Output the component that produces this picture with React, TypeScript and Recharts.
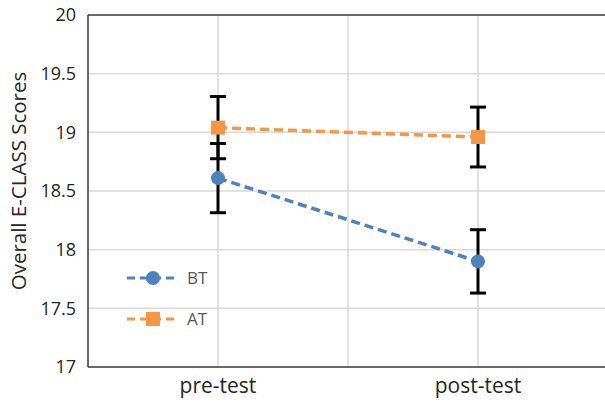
import { ComposedChart, Line, XAxis, YAxis, CartesianGrid, ErrorBar, Legend, ReferenceLine } from "recharts";

const LABELS = ["pre-test", "post-test"];
const X_POS = [1, 2];
const BT = [18.61, 17.9];
const BT_ERR = [0.295, 0.27];
const AT = [19.04, 18.96];
const AT_ERR = [0.265, 0.255];
const Y_TICKS = [17, 17.5, 18, 18.5, 19, 19.5, 20];

const BLUE = "#4f81bd";
const ORANGE = "#f79646";
const FONT = "'Open Sans', sans-serif";

const data = X_POS.map((x, i) => ({
  x,
  bt: BT[i],
  btErr: BT_ERR[i],
  at: AT[i],
  atErr: AT_ERR[i],
}));

function SquareDot(props: any) {
  const { cx, cy } = props;
  if (cx == null || cy == null) return null;
  return <rect x={cx - 7} y={cy - 7} width={14} height={14} fill={ORANGE} />;
}

function YTitle(props: any) {
  const vb = props.viewBox || { x: 0, y: 15, width: 88, height: 352 };
  const cx = vb.x + 18;
  const cy = vb.y + vb.height / 2 - 10;
  return (
    <text
      x={cx}
      y={cy}
      transform={`rotate(-90, ${cx}, ${cy})`}
      textAnchor="middle"
      dominantBaseline="central"
      fontSize={20.5}
      fill="#262626"
      fontFamily={FONT}
    >
      Overall E-CLASS Scores
    </text>
  );
}

function LegendBox() {
  const items = [
    { name: "BT", color: BLUE, square: false },
    { name: "AT", color: ORANGE, square: true },
  ];
  return (
    <div style={{ fontFamily: FONT }}>
      {items.map((it) => (
        <div key={it.name} style={{ display: "flex", alignItems: "center", height: 41 }}>
          <svg width={56} height={16}>
            <line x1={2} y1={8} x2={54} y2={8} stroke={it.color} strokeWidth={3} strokeDasharray="8 5" />
            {it.square ? (
              <rect x={21} y={1} width={14} height={14} fill={it.color} />
            ) : (
              <circle cx={28} cy={8} r={7} fill={it.color} />
            )}
          </svg>
          <span style={{ fontSize: 17, color: "#595959", marginLeft: 6 }}>{it.name}</span>
        </div>
      ))}
    </div>
  );
}

export default function App() {
  return (
    <div style={{ position: "absolute", left: 0, top: 0, background: "#fff" }}>
      <ComposedChart width={605} height={406} data={data} margin={{ top: 15, right: -3, bottom: 0, left: 0 }}>
        <CartesianGrid stroke="#d9d9d9" strokeWidth={1.5} />
        <XAxis
          dataKey="x"
          type="number"
          domain={[0.5, 2.5]}
          ticks={[1, 1.5, 2]}
          tickFormatter={(v: number) => LABELS[v - 1] ?? ""}
          height={39}
          tickSize={0}
          tickMargin={11}
          axisLine={{ stroke: "#404040", strokeWidth: 1.5 }}
          tick={{ fontSize: 21, fill: "#262626", fontFamily: FONT }}
        />
        <YAxis
          domain={[17, 20]}
          ticks={Y_TICKS}
          width={88}
          tickSize={0}
          tickMargin={12}
          axisLine={{ stroke: "#404040", strokeWidth: 1.5 }}
          tick={{ fontSize: 18, fill: "#262626", fontFamily: FONT }}
          label={<YTitle />}
        />
        <ReferenceLine y={20} stroke="#404040" strokeWidth={1.5} />
        <Legend
          layout="horizontal"
          align="center"
          verticalAlign="middle"
          content={() => <LegendBox />}
          wrapperStyle={{ left: 125, top: 257, width: 120 }}
        />
        <Line
          dataKey="bt"
          stroke={BLUE}
          strokeWidth={3.5}
          strokeDasharray="9 5"
          dot={{ r: 7, fill: BLUE, stroke: BLUE, strokeWidth: 0 }}
          isAnimationActive={false}
        >
          <ErrorBar dataKey="btErr" direction="y" width={8} stroke="#000" strokeWidth={3} />
        </Line>
        <Line
          dataKey="at"
          stroke={ORANGE}
          strokeWidth={3.5}
          strokeDasharray="9 5"
          dot={<SquareDot />}
          isAnimationActive={false}
        >
          <ErrorBar dataKey="atErr" direction="y" width={8} stroke="#000" strokeWidth={3} />
        </Line>
      </ComposedChart>
    </div>
  );
}
